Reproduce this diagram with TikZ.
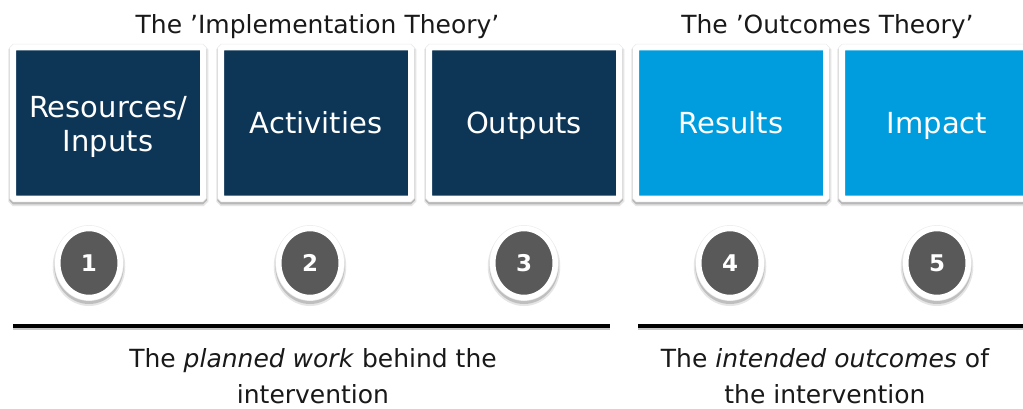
\documentclass[tikz,border=0pt]{standalone}
\usepackage{fontspec}
\setmainfont{DejaVu Sans}
\usetikzlibrary{shapes.geometric}
\definecolor{navy}{HTML}{0C3556}
\definecolor{sky}{HTML}{009DDE}
\definecolor{disc}{HTML}{595959}
\begin{document}
\begin{tikzpicture}[x=1pt,y=-1pt,
  boxframe/.style={rectangle, draw=white, line width=6pt, minimum width=190pt, minimum height=151pt,
    rounded corners=1.5pt, inner sep=0pt,
    preaction={draw=black!10, line width=10pt, transform canvas={yshift=-2.5pt, xshift=0.3pt}},
    preaction={draw=black!28, line width=7.5pt, transform canvas={yshift=-2pt}},
    preaction={draw=black!8, line width=7.2pt}},
  darkbox/.style={boxframe, fill=navy},
  lightbox/.style={boxframe, fill=sky},
  boxtext/.style={text=white, inner sep=0pt, align=center, font=\fontsize{29}{34}\selectfont},
  numdisc/.style={ellipse, draw=white, line width=5.5pt, fill=disc, minimum width=62.5pt, minimum height=69pt,
    inner sep=0pt, text=white, font=\fontsize{23}{23}\selectfont\bfseries,
    preaction={draw=black!10, line width=10pt, transform canvas={yshift=-3.5pt}},
    preaction={draw=black!25, line width=7pt, transform canvas={yshift=-3pt}},
    preaction={draw=black!7, line width=6.8pt}},
  heading/.style={inner sep=0pt, anchor=base, font=\fontsize{25}{30}\selectfont, text=black!90},
  caption/.style={inner sep=0pt, align=center, font=\fontsize{25}{36}\selectfont, text=black!90},
  rule/.style={line width=3.5pt, black},
  ruleshadow/.style={line width=3pt, black!22},
]
\useasboundingbox (0,0) rectangle (1023,409);
\fill[white] (0,0) rectangle (1023,409);

% titles
\node[heading] (t1) at (317.5,34) {The ’Implementation Theory’};
\node[heading] (t2) at (827.5,34) {The ’Outcomes Theory’};

% boxes
\node[darkbox] (b1) at (108,123) {};
\node[darkbox] (b2) at (316,123) {};
\node[darkbox] (b3) at (524,123) {};
\node[lightbox] (b4) at (731,123) {};
\node[lightbox] (b5) at (937,123) {};

\node[boxtext] (l1) at (108,127) {Resources/\\Inputs};
\node[boxtext, anchor=base] (l2) at (316,134) {Activities};
\node[boxtext, anchor=base] (l3) at (524,134) {Outputs};
\node[boxtext, anchor=base] (l4) at (731,134) {Results};
\node[boxtext, anchor=base] (l5) at (937,134) {Impact};

% numbered discs
\node[numdisc] (n1) at (89,263) {1};
\node[numdisc] (n2) at (310,263) {2};
\node[numdisc] (n3) at (524,263) {3};
\node[numdisc] (n4) at (730,263) {4};
\node[numdisc] (n5) at (937,263) {5};

% rules
\coordinate (r1a) at (13,326);
\coordinate (r1b) at (610,326);
\coordinate (r2a) at (638,326);
\coordinate (r2b) at (1030,326);
\draw[ruleshadow] ([yshift=-2.5pt]r1a) -- ([yshift=-2.5pt]r1b);
\draw[ruleshadow] ([yshift=-2.5pt]r2a) -- ([yshift=-2.5pt]r2b);
\draw[rule] (r1a) -- (r1b);
\draw[rule] (r2a) -- (r2b);

% captions
\node[caption] (c1) at (313,376.5) {The \textit{planned work} behind the\\intervention};
\node[caption] (c2) at (825,376.5) {The \textit{intended outcomes} of\\the intervention};
\end{tikzpicture}
\end{document}
